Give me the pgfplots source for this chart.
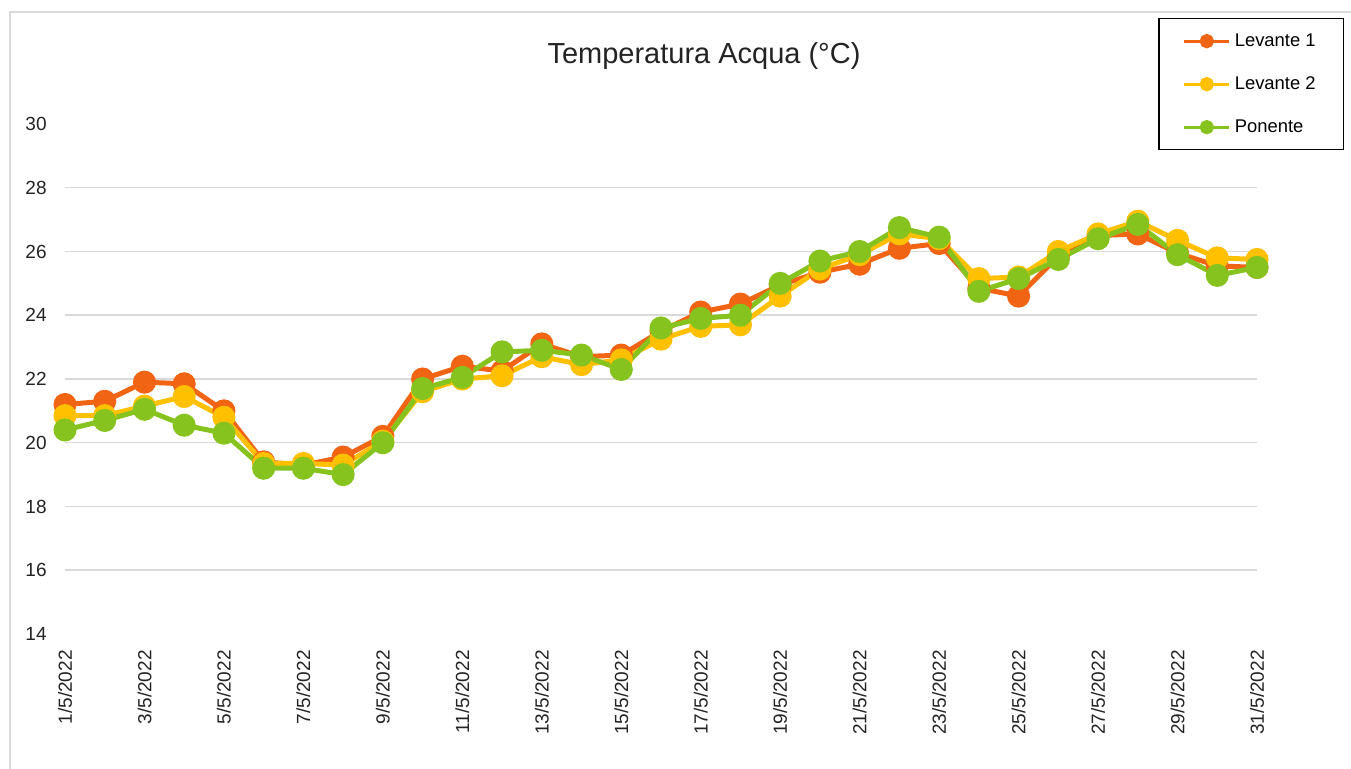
\documentclass[border=0pt]{standalone}
\usepackage{fontspec}
\setmainfont{Liberation Sans}
\usepackage{pgfplots}
\pgfplotsset{compat=1.18}

\definecolor{levuno}{RGB}{240,100,20}
\definecolor{levdue}{RGB}{255,192,0}
\definecolor{ponente}{RGB}{135,195,30}
\definecolor{griglia}{RGB}{217,217,217}
\definecolor{testo}{RGB}{35,35,35}

\begin{document}
\begin{tikzpicture}
\useasboundingbox (-32.5pt,-67.5pt) rectangle (643pt,317pt);
% cornice esterna
\draw[griglia, line width=0.75pt] (-27.5pt,-67.5pt) -- (-27.5pt,311pt) -- (643pt,311pt);
\node[font=\fontsize{14.5}{17}\selectfont, text=testo, anchor=base] at (319.5pt,285pt) {Temperatura Acqua (°C)};
\begin{axis}[
    at={(0pt,0pt)}, anchor=south west,
    scale only axis,
    width=596pt, height=255pt,
    xmin=1, xmax=31,
    ymin=14, ymax=30,
    axis line style={draw=none},
    major tick length=0pt,
    ytick={14,16,...,30},
    extra y ticks={16,18,...,28},
    extra y tick labels={},
    extra y tick style={grid=major, major grid style={griglia, line width=0.75pt}},
    xtick={1,3,...,31},
    xticklabels={1/5/2022,3/5/2022,5/5/2022,7/5/2022,9/5/2022,11/5/2022,13/5/2022,15/5/2022,17/5/2022,19/5/2022,21/5/2022,23/5/2022,25/5/2022,27/5/2022,29/5/2022,31/5/2022},
    /pgf/number format/assume math mode=true,
    ticklabel style={font=\fontsize{9.5}{11}\selectfont, text=testo},
    yticklabel style={anchor=east, inner xsep=0pt, xshift=-9pt},
    xticklabel style={rotate=90, anchor=east, inner xsep=8pt, inner ysep=0pt},
    legend style={at={(0.917,1.208)}, anchor=north west, draw=black, line width=0.75pt,
        font=\fontsize{9.2}{11}\selectfont, inner xsep=12pt, inner ysep=6.5pt,
        row sep=12pt, nodes={text height=7.5pt, text depth=2pt, inner ysep=0pt, inner xsep=2pt}},
    legend cell align=left,
    legend image code/.code={
        \draw[#1, line width=1.5pt] (0pt,0pt) -- (22.5pt,0pt);
        \fill[#1] (11.25pt,0pt) circle (2.3pt);
    },
    every axis plot/.append style={line width=2.5pt, mark=*, mark size=4.5pt},
]
\addplot[color=levuno, mark options={fill=levuno}] coordinates {
(1,21.2)(2,21.3)(3,21.9)(4,21.85)(5,21.0)(6,19.4)(7,19.3)(8,19.55)(9,20.2)(10,22.0)
(11,22.4)(12,22.25)(13,23.1)(14,22.7)(15,22.75)(16,23.5)(17,24.1)(18,24.35)(19,24.95)(20,25.35)
(21,25.6)(22,26.1)(23,26.25)(24,24.85)(25,24.6)(26,25.85)(27,26.5)(28,26.55)(29,25.95)(30,25.55)(31,25.5)
};
\addlegendentry{Levante 1}
\addplot[color=levdue, mark options={fill=levdue}] coordinates {
(1,20.85)(2,20.85)(3,21.15)(4,21.45)(5,20.8)(6,19.35)(7,19.35)(8,19.3)(9,20.05)(10,21.6)
(11,22.0)(12,22.1)(13,22.7)(14,22.45)(15,22.6)(16,23.25)(17,23.65)(18,23.7)(19,24.6)(20,25.45)
(21,25.9)(22,26.55)(23,26.4)(24,25.15)(25,25.2)(26,26.0)(27,26.55)(28,26.95)(29,26.35)(30,25.8)(31,25.75)
};
\addlegendentry{Levante 2}
\addplot[color=ponente, mark options={fill=ponente}] coordinates {
(1,20.4)(2,20.7)(3,21.05)(4,20.55)(5,20.3)(6,19.2)(7,19.2)(8,19.0)(9,20.0)(10,21.7)
(11,22.05)(12,22.85)(13,22.9)(14,22.75)(15,22.3)(16,23.6)(17,23.9)(18,24.0)(19,25.0)(20,25.7)
(21,26.0)(22,26.75)(23,26.45)(24,24.75)(25,25.15)(26,25.75)(27,26.4)(28,26.85)(29,25.9)(30,25.25)(31,25.5)
};
\addlegendentry{Ponente}
\end{axis}
\end{tikzpicture}
\end{document}
